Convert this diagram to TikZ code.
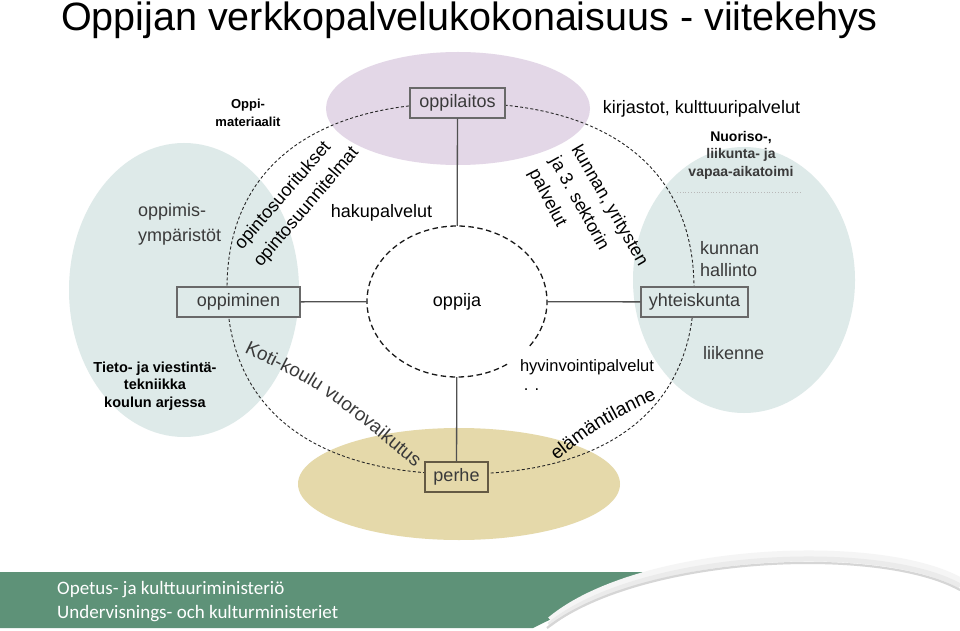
\documentclass[tikz,border=0pt]{standalone}
\usepackage{fontspec}
\setmainfont{Liberation Sans}
\newfontfamily\okmfont{Carlito}
\usetikzlibrary{shapes.geometric,decorations.text}
\definecolor{purp}{RGB}{227,215,231}
\definecolor{lblue}{RGB}{222,234,233}
\definecolor{famtan}{RGB}{229,217,170}
\definecolor{okmgreen}{RGB}{94,146,120}
\definecolor{boxline}{RGB}{105,105,105}
\definecolor{perheline}{RGB}{100,90,68}
\definecolor{connline}{RGB}{80,80,80}
\definecolor{txtgray}{RGB}{58,58,58}
\begin{document}
\begin{tikzpicture}[x=1pt,y=1pt,
  lbl/.style={inner sep=0, font=\fontsize{18}{21}\selectfont},
  boxnode/.style={draw=boxline, line width=1.1pt, minimum height=30, inner sep=0, text=txtgray, font=\fontsize{18}{21}\selectfont},
  conn/.style={draw=connline, line width=1.3pt},
  bigdash/.style={draw=black!85, line width=0.9pt, dash pattern=on 3pt off 2.2pt},
  smalldash/.style={draw=black!90, line width=1.3pt, dash pattern=on 5.5pt off 3.5pt}
]
\useasboundingbox (0,0) rectangle (960,630);
\fill[white] (0,0) rectangle (960,630);

% background ellipses
\fill[purp] (458,521.5) ellipse [x radius=132, y radius=56.5];
\fill[lblue] (184,340) ellipse [x radius=115, y radius=147];
\fill[lblue] (744,350) ellipse [x radius=111, y radius=133];
\fill[famtan] (459,146) ellipse [x radius=161, y radius=56];

% big dashed ring
\draw[bigdash] (694,341.5) .. controls (694,460.2) and (609.9,527) .. (460.5,527)
  .. controls (311.1,527) and (227,460.2) .. (227,341.5)
  .. controls (227,222.8) and (311.1,156) .. (460.5,156)
  .. controls (609.9,156) and (694,222.8) .. (694,341.5);

% boxes
\node[boxnode, fill=purp, minimum width=95] (oppilaitos) at (457.5,527) {oppilaitos};
\node[boxnode, fill=lblue, minimum width=123] (oppiminen) at (238.5,328) {oppiminen};
\node[boxnode, fill=lblue, minimum width=107] (yhteiskunta) at (694.5,328) {yhteiskunta};
\node[boxnode, fill=famtan, draw=perheline, minimum width=63] (perhe) at (456.5,153) {perhe};

% learner
\node[ellipse, minimum width=180, minimum height=151, inner sep=0, font=\fontsize{18}{21}\selectfont] (oppija) at (457,328.5) {oppija};
\draw[smalldash] (oppija.center) ++(-36:90 and 75.5) arc[start angle=-36, end angle=304, x radius=90, y radius=75.5];

% connectors
\draw[conn] (oppilaitos) -- (oppija);
\draw[conn] (oppiminen) -- (oppija);
\draw[conn] (oppija) -- (yhteiskunta);
\draw[conn] (oppija) -- (perhe);

% title
\node[lbl, font=\fontsize{39.5}{44}\selectfont, anchor=base] (title) at (469.5,599) {Oppijan verkkopalvelukokonaisuus - viitekehys};

% rotated labels (left pair)
\node[lbl, rotate=49, anchor=base west] (suor) at (242,379.5) {opintosuoritukset};
\node[lbl, rotate=49.5, anchor=base west] (suun) at (261,362) {opintosuunnitelmat};
% rotated labels (right block)
\node[lbl, rotate=-60, anchor=base west] (kunnan) at (571,481) {kunnan, yritysten};
\node[lbl, rotate=-61, anchor=base west] (sektori) at (549.6,469.4) {ja 3. sektorin};
\node[lbl, rotate=-62.5, anchor=base west] (palv) at (528.6,457.2) {palvelut};

% curved labels
\path[decorate, decoration={text along path, text={|\fontsize{19}{19}\selectfont\color{txtgray}|Koti-koulu vuorovaikutus}}]
  (244,278) .. controls (321,241) .. (435,146);
\path[decorate, decoration={text along path, text={|\fontsize{19}{19}\selectfont|elämäntilanne}}]
  (556.5,169.5) .. controls (603.5,206) .. (680,242);

% other labels
\node[lbl, font=\bfseries\fontsize{13}{18}\selectfont, align=center] (oppimat) at (248,517) {Oppi-\\materiaalit};
\node[lbl] (kirjastot) at (701.5,521) {kirjastot, kulttuuripalvelut};
\node[lbl, font=\bfseries\fontsize{14}{17.5}\selectfont, align=center, text=txtgray] (nuoriso) at (741,475) {\textcolor{black}{Nuoriso-,}\\liikunta- ja\\vapaa-aikatoimi};
\coordinate (dotA) at (677,438);
\coordinate (dotB) at (802,438);
\draw[gray!55, dotted, line width=0.8pt] (dotA) -- (dotB);
\node[lbl, font=\fontsize{18}{25}\selectfont, align=left, text=txtgray, anchor=west] (oppymp) at (138,405.5) {oppimis-\\ympäristöt};
\node[lbl] (haku) at (381.5,417) {hakupalvelut};
\node[lbl, font=\fontsize{18}{22}\selectfont, align=left, text=txtgray, anchor=west] (hallinto) at (700,371) {kunnan\\hallinto};
\node[lbl, text=txtgray, anchor=west] (liikenne) at (703,277) {liikenne};
\node[lbl, font=\bfseries\fontsize{14.5}{17.5}\selectfont, align=center] (tvt) at (155,244) {Tieto- ja viestintä-\\tekniikka\\koulun arjessa};
\node[lbl, font=\fontsize{16.5}{20}\selectfont] (hyv) at (587,263) {hyvinvointipalvelut};
\node[lbl, font=\fontsize{16.5}{20}\selectfont, anchor=base] (dots) at (531.5,240) {. .};

% banner
\fill[okmgreen] (0,2) -- (0,58) -- (643,58) .. controls (610,38) and (565,18) .. (533,2) -- cycle;
\draw[gray!8, line width=9pt] (551,9) .. controls (640,83) and (880,93) .. (960,48);
\draw[gray!16, line width=5pt] (549,5) .. controls (640,79) and (880,89) .. (960,44);
\draw[gray!32, line width=2.2pt] (547,2) .. controls (640,75) and (880,85) .. (960,40);
\node[lbl, font=\okmfont\fontsize{19}{23}\selectfont, text=white, anchor=base west] (okm1) at (57,36) {Opetus- ja kulttuuriministeriö};
\node[lbl, font=\okmfont\fontsize{19}{23}\selectfont, text=white, anchor=base west] (okm2) at (57,12) {Undervisnings- och kulturministeriet};
\end{tikzpicture}
\end{document}
